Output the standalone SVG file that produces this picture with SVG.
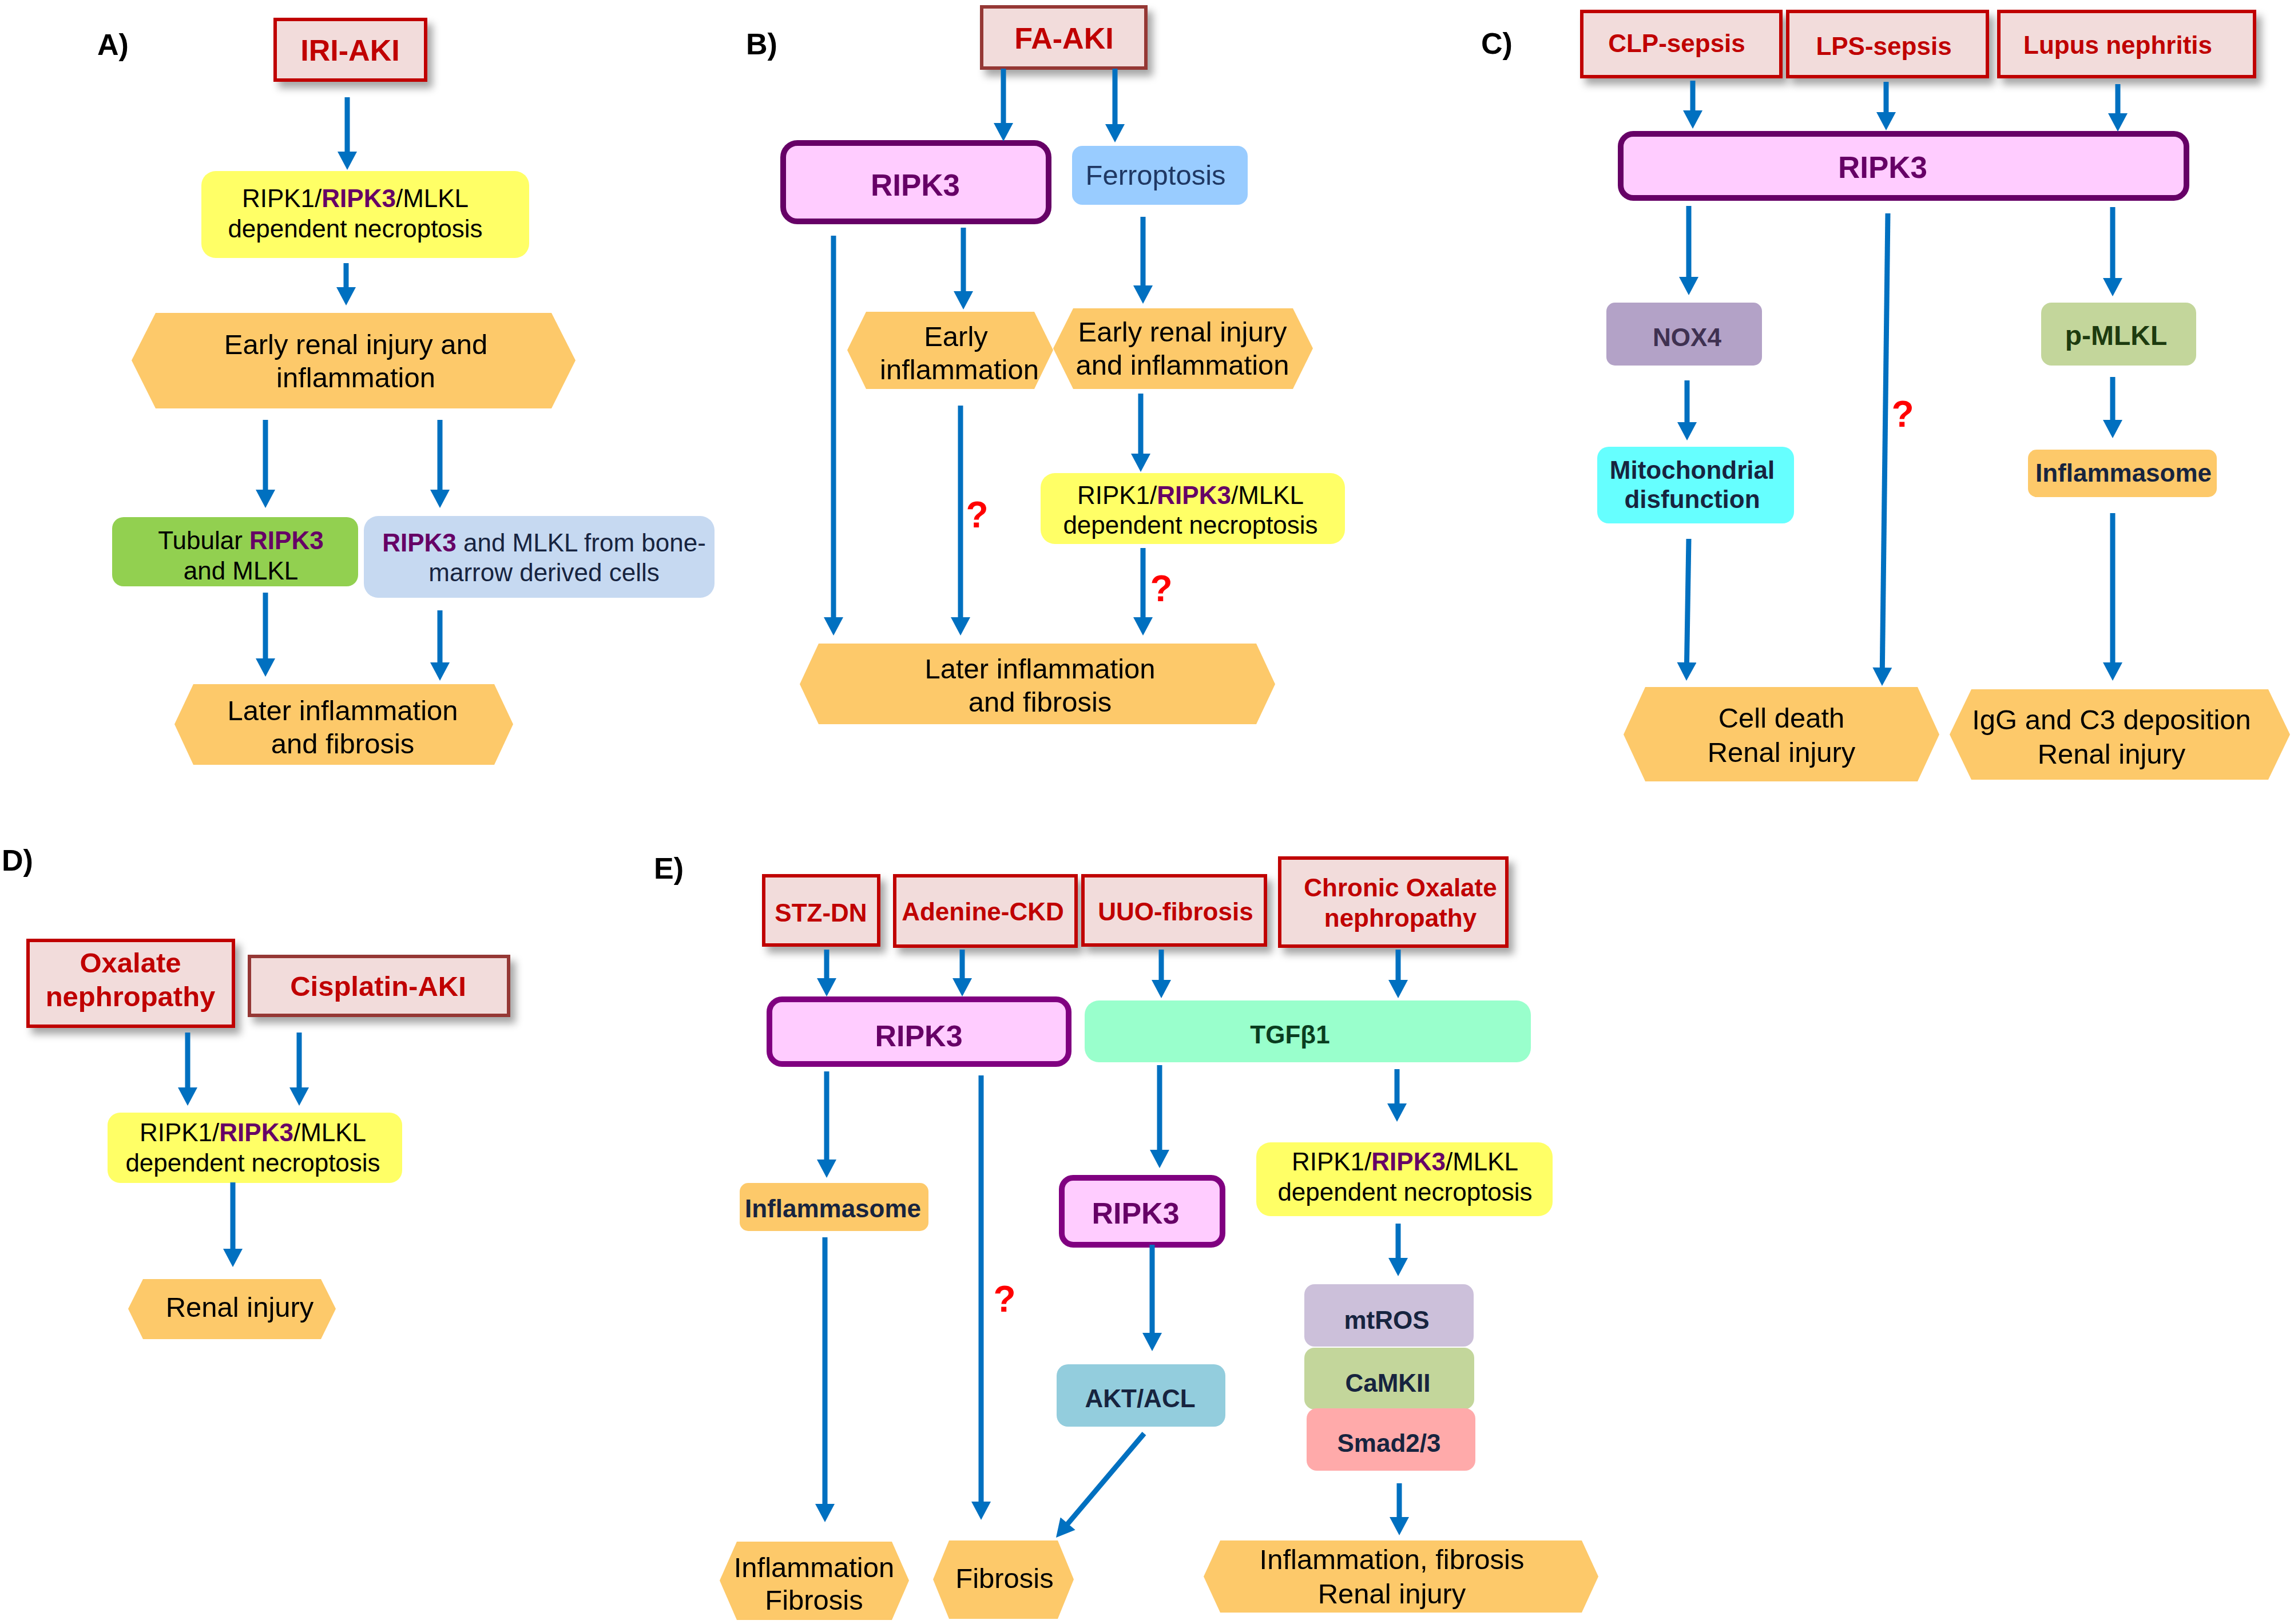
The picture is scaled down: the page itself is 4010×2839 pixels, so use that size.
<svg xmlns="http://www.w3.org/2000/svg" width="4010" height="2839" viewBox="0 0 4010 2839">
<style>
text { font-family: "Liberation Sans", Arial, sans-serif; text-anchor: middle; fill: #000; }
.f44 { font-size: 44px; }
.f49 { font-size: 49px; }
.b { font-weight: bold; }
.lbl { font-size: 52px; font-weight: bold; text-anchor: start; }
.redt { fill: #c00000; font-weight: bold; }
.pur { fill: #660066; font-weight: bold; }
.navy { fill: #17243f; font-weight: bold; }
.q { fill: #ff0000; font-size: 64px; font-weight: bold; }
.hex { fill: #fdc96a; }
.rbox { fill: #f2dcdb; stroke: #c00000; stroke-width: 6; filter: url(#sh); }
.rbox2 { fill: #f2dcdb; stroke: #953735; stroke-width: 6; filter: url(#sh); }
.rip { fill: #ffccff; stroke: #660066; stroke-width: 10; }
.ripE { fill: #ffccff; stroke: #800080; stroke-width: 10; }
.yel { fill: #ffff66; }
#connectors line { stroke: #0070c0; stroke-width: 9; marker-end: url(#ah); }
</style>
<defs>
<marker id="ah" markerUnits="userSpaceOnUse" markerWidth="34" markerHeight="34" viewBox="0 0 32 34" refX="12" refY="17" orient="auto">
<path d="M0,0 L32,17 L0,34 z" fill="#0070c0"/>
</marker>
<filter id="sh" x="-10%" y="-15%" width="130%" height="145%">
<feDropShadow dx="9" dy="11" stdDeviation="7" flood-color="#000" flood-opacity="0.35"/>
</filter>
</defs>
<rect width="4010" height="2839" fill="#fff"/>

<!-- Panel labels -->
<text class="lbl" x="170" y="96">A)</text>
<text class="lbl" x="1304" y="95">B)</text>
<text class="lbl" x="2589" y="94">C)</text>
<text class="lbl" x="3" y="1522">D)</text>
<text class="lbl" x="1143" y="1536">E)</text>

<!-- ============ Panel A ============ -->
<g id="A_iri">
<rect class="rbox" x="481" y="34" width="263" height="106"/>
<text class="redt" x="612" y="106" style="font-size:52px">IRI-AKI</text>
</g>
<g id="A_necro">
<rect class="yel" x="352" y="299" width="573" height="152" rx="25"/>
<text class="f44" x="621" y="362">RIPK1/<tspan class="pur">RIPK3</tspan>/MLKL</text>
<text class="f44" x="621" y="415">dependent necroptosis</text>
</g>
<g id="A_early">
<polygon class="hex" points="230,630 272,547 964,547 1006,630 964,714 272,714"/>
<text class="f49" x="622" y="619">Early renal injury and</text>
<text class="f49" x="622" y="677">inflammation</text>
</g>
<g id="A_tub">
<rect x="196" y="904" width="430" height="121" rx="20" fill="#92d050"/>
<text class="f44" x="421" y="960">Tubular <tspan class="pur">RIPK3</tspan></text>
<text class="f44" x="421" y="1013">and MLKL</text>
</g>
<g id="A_bm">
<rect x="636" y="902" width="613" height="143" rx="25" fill="#c6d9f1"/>
<text class="f44" x="951" y="964" style="fill:#17243f"><tspan class="pur">RIPK3</tspan> and MLKL from bone-</text>
<text class="f44" x="951" y="1016" style="fill:#17243f">marrow derived cells</text>
</g>
<g id="A_later">
<polygon class="hex" points="305,1266 338,1196 864,1196 897,1266 864,1337 338,1337"/>
<text class="f49" x="599" y="1259">Later inflammation</text>
<text class="f49" x="599" y="1317">and fibrosis</text>
</g>

<!-- ============ Panel B ============ -->
<g id="B_fa">
<rect class="rbox2" x="1716" y="12" width="287" height="107"/>
<text class="redt" x="1860" y="85" style="font-size:52px">FA-AKI</text>
</g>
<g id="B_ripk3">
<rect class="rip" x="1369" y="250" width="464" height="137" rx="25"/>
<text class="pur" x="1600" y="342" style="font-size:53px">RIPK3</text>
</g>
<g id="B_ferro">
<rect x="1874" y="255" width="307" height="103" rx="18" fill="#99ccff"/>
<text class="f49" x="2020" y="323" style="fill:#1f3864">Ferroptosis</text>
</g>
<g id="B_earlyinf">
<polygon class="hex" points="1481,612 1514,545 1808,545 1841,612 1808,680 1514,680"/>
<text class="f49" x="1671" y="605">Early</text>
<text class="f49" x="1677" y="663">inflammation</text>
</g>
<g id="B_earlyren">
<polygon class="hex" points="1841,609 1876,539 2260,539 2295,609 2260,680 1876,680"/>
<text class="f49" x="2067" y="597">Early renal injury</text>
<text class="f49" x="2067" y="655">and inflammation</text>
</g>
<g id="B_necro">
<rect class="yel" x="1819" y="827" width="532" height="124" rx="25"/>
<text class="f44" x="2081" y="881">RIPK1/<tspan class="pur">RIPK3</tspan>/MLKL</text>
<text class="f44" x="2081" y="933">dependent necroptosis</text>
</g>
<g id="B_later">
<polygon class="hex" points="1398,1196 1431,1125 2196,1125 2229,1196 2196,1266 1431,1266"/>
<text class="f49" x="1818" y="1186">Later inflammation</text>
<text class="f49" x="1818" y="1244">and fibrosis</text>
</g>
<text class="q" x="1708" y="922">?</text>
<text class="q" x="2030" y="1051">?</text>

<!-- ============ Panel C ============ -->
<g id="C_clp">
<rect class="rbox" x="2765" y="20" width="348" height="114"/>
<text class="redt f44" x="2931" y="91">CLP-sepsis</text>
</g>
<g id="C_lps">
<rect class="rbox" x="3125" y="20" width="349" height="114"/>
<text class="redt f44" x="3293" y="96">LPS-sepsis</text>
</g>
<g id="C_lupus">
<rect class="rbox" x="3494" y="20" width="447" height="114"/>
<text class="redt f44" x="3702" y="94">Lupus nephritis</text>
</g>
<g id="C_ripk3">
<rect class="rip" x="2833" y="234" width="989" height="112" rx="22"/>
<text class="pur" x="3291" y="311" style="font-size:53px">RIPK3</text>
</g>
<g id="C_nox4">
<rect x="2808" y="529" width="272" height="110" rx="15" fill="#b3a2c7"/>
<text class="f44 b" x="2949" y="605" style="fill:#3f3151">NOX4</text>
</g>
<g id="C_pmlkl">
<rect x="3568" y="529" width="271" height="110" rx="18" fill="#c3d69b"/>
<text class="b" x="3699" y="603" style="font-size:48px;fill:#1d3b0f">p-MLKL</text>
</g>
<g id="C_mito">
<rect x="2792" y="781" width="344" height="134" rx="20" fill="#66ffff"/>
<text class="f44 navy" x="2958" y="837">Mitochondrial</text>
<text class="f44 navy" x="2958" y="888">disfunction</text>
</g>
<g id="C_inflam">
<rect x="3545" y="786" width="330" height="83" rx="15" fill="#fdc96a"/>
<text class="f44 navy" x="3712" y="842">Inflammasome</text>
</g>
<g id="C_cell">
<polygon class="hex" points="2838,1284 2876,1201 3352,1201 3390,1284 3352,1366 2876,1366"/>
<text class="f49" x="3114" y="1272">Cell death</text>
<text class="f49" x="3114" y="1332">Renal injury</text>
</g>
<g id="C_igg">
<polygon class="hex" points="3408,1284 3446,1205 3965,1205 4003,1284 3965,1363 3446,1363"/>
<text class="f49" x="3691" y="1275">IgG and C3 deposition</text>
<text class="f49" x="3691" y="1335">Renal injury</text>
</g>
<text class="q" x="3326" y="746">?</text>

<!-- ============ Panel D ============ -->
<g id="D_oxa">
<rect class="rbox" x="49" y="1644" width="359" height="150"/>
<text class="redt f49" x="228" y="1700">Oxalate</text>
<text class="redt f49" x="228" y="1759">nephropathy</text>
</g>
<g id="D_cis">
<rect class="rbox2" x="436" y="1672" width="453" height="103"/>
<text class="redt f49" x="661" y="1741">Cisplatin-AKI</text>
</g>
<g id="D_necro">
<rect class="yel" x="188" y="1945" width="515" height="123" rx="22"/>
<text class="f44" x="442" y="1995">RIPK1/<tspan class="pur">RIPK3</tspan>/MLKL</text>
<text class="f44" x="442" y="2048">dependent necroptosis</text>
</g>
<g id="D_renal">
<polygon class="hex" points="224,2288 250,2236 561,2236 587,2288 561,2341 250,2341"/>
<text class="f49" x="419" y="2302">Renal injury</text>
</g>

<!-- ============ Panel E ============ -->
<g id="E_stz">
<rect class="rbox" x="1335" y="1531" width="201" height="121"/>
<text class="redt f44" x="1435" y="1611">STZ-DN</text>
</g>
<g id="E_aden">
<rect class="rbox" x="1564" y="1531" width="317" height="123"/>
<text class="redt f44" x="1718" y="1609">Adenine-CKD</text>
</g>
<g id="E_uuo">
<rect class="rbox" x="1893" y="1531" width="319" height="121"/>
<text class="redt f44" x="2055" y="1609">UUO-fibrosis</text>
</g>
<g id="E_chronic">
<rect class="rbox" x="2237" y="1500" width="397" height="154"/>
<text class="redt f44" x="2448" y="1567">Chronic Oxalate</text>
<text class="redt f44" x="2448" y="1620">nephropathy</text>
</g>
<g id="E_ripk3">
<rect class="ripE" x="1345" y="1747" width="523" height="113" rx="22"/>
<text class="pur" x="1606" y="1829" style="font-size:52px">RIPK3</text>
</g>
<g id="E_tgf">
<rect x="1896" y="1749" width="780" height="108" rx="25" fill="#99ffcc"/>
<text class="f44 b" x="2255" y="1824" style="fill:#0a3d1f">TGFβ1</text>
</g>
<g id="E_inflam">
<rect x="1293" y="2068" width="330" height="84" rx="15" fill="#fdc96a"/>
<text class="f44 navy" x="1456" y="2128">Inflammasome</text>
</g>
<g id="E_ripk3b">
<rect class="ripE" x="1856" y="2059" width="281" height="117" rx="20"/>
<text class="pur" x="1985" y="2139" style="font-size:52px">RIPK3</text>
</g>
<g id="E_necro">
<rect class="yel" x="2196" y="1997" width="518" height="129" rx="25"/>
<text class="f44" x="2456" y="2046">RIPK1/<tspan class="pur">RIPK3</tspan>/MLKL</text>
<text class="f44" x="2456" y="2099">dependent necroptosis</text>
</g>
<g id="E_akt">
<rect x="1847" y="2385" width="295" height="109" rx="20" fill="#93cddd"/>
<text class="f44 navy" x="1993" y="2460">AKT/ACL</text>
</g>
<g id="E_mtros">
<rect x="2280" y="2245" width="296" height="109" rx="18" fill="#ccc0da"/>
<text class="f44 navy" x="2424" y="2323">mtROS</text>
</g>
<g id="E_camk">
<rect x="2280" y="2356" width="297" height="108" rx="18" fill="#c3d69b"/>
<text class="f44 navy" x="2426" y="2433">CaMKII</text>
</g>
<g id="E_smad">
<rect x="2284" y="2462" width="295" height="109" rx="18" fill="#ffaaaa"/>
<text class="f44 navy" x="2428" y="2538">Smad2/3</text>
</g>
<g id="E_inffib">
<polygon class="hex" points="1258,2763 1288,2695 1559,2695 1589,2763 1559,2832 1288,2832"/>
<text class="f49" x="1423" y="2757">Inflammation</text>
<text class="f49" x="1423" y="2814">Fibrosis</text>
</g>
<g id="E_fib">
<polygon class="hex" points="1631,2761 1659,2693 1849,2693 1877,2761 1849,2830 1659,2830"/>
<text class="f49" x="1756" y="2776">Fibrosis</text>
</g>
<g id="E_final">
<polygon class="hex" points="2104,2756 2133,2693 2765,2693 2794,2756 2765,2819 2133,2819"/>
<text class="f49" x="2433" y="2743">Inflammation, fibrosis</text>
<text class="f49" x="2433" y="2803">Renal injury</text>
</g>
<text class="q" x="1756" y="2293">?</text>

<!-- ============ Connectors ============ -->
<g id="connectors">
<!-- A -->
<line x1="607" y1="170" x2="607" y2="277"/>
<line x1="605" y1="460" x2="605" y2="514"/>
<line x1="464" y1="734" x2="464" y2="868"/>
<line x1="769" y1="734" x2="769" y2="868"/>
<line x1="464" y1="1036" x2="464" y2="1163"/>
<line x1="769" y1="1067" x2="769" y2="1170"/>
<!-- B -->
<line x1="1754" y1="120" x2="1754" y2="227"/>
<line x1="1949" y1="120" x2="1949" y2="229"/>
<line x1="1457" y1="412" x2="1457" y2="1091"/>
<line x1="1684" y1="398" x2="1684" y2="521"/>
<line x1="1998" y1="379" x2="1998" y2="511"/>
<line x1="1679" y1="709" x2="1679" y2="1091"/>
<line x1="1994" y1="688" x2="1994" y2="805"/>
<line x1="1998" y1="958" x2="1998" y2="1091"/>
<!-- C -->
<line x1="2959" y1="141" x2="2959" y2="205"/>
<line x1="3297" y1="143" x2="3297" y2="208"/>
<line x1="3702" y1="147" x2="3702" y2="210"/>
<line x1="2952" y1="360" x2="2952" y2="496"/>
<line x1="3693" y1="362" x2="3693" y2="498"/>
<line x1="3300" y1="373" x2="3290.2" y2="1179"/>
<line x1="2949" y1="665" x2="2949" y2="750"/>
<line x1="3693" y1="659" x2="3693" y2="746"/>
<line x1="2952" y1="942" x2="2948.3" y2="1170"/>
<line x1="3693" y1="897" x2="3693" y2="1170"/>
<!-- D -->
<line x1="328" y1="1805" x2="328" y2="1913"/>
<line x1="523" y1="1805" x2="523" y2="1913"/>
<line x1="407" y1="2067" x2="407" y2="2195"/>
<!-- E -->
<line x1="1445" y1="1660" x2="1445" y2="1722"/>
<line x1="1682" y1="1660" x2="1682" y2="1722"/>
<line x1="2030" y1="1660" x2="2030" y2="1725"/>
<line x1="2444" y1="1660" x2="2444" y2="1725"/>
<line x1="1445" y1="1873" x2="1445" y2="2039"/>
<line x1="1715" y1="1880" x2="1715" y2="2637"/>
<line x1="2027" y1="1862" x2="2027" y2="2022"/>
<line x1="2442" y1="1869" x2="2442" y2="1941"/>
<line x1="1442" y1="2163" x2="1442" y2="2641"/>
<line x1="2014" y1="2176" x2="2014" y2="2342"/>
<line x1="2444" y1="2139" x2="2444" y2="2211"/>
<line x1="2000" y1="2506" x2="1858.9" y2="2672.7"/>
<line x1="2446" y1="2593" x2="2446" y2="2664"/>
</g>
</svg>
